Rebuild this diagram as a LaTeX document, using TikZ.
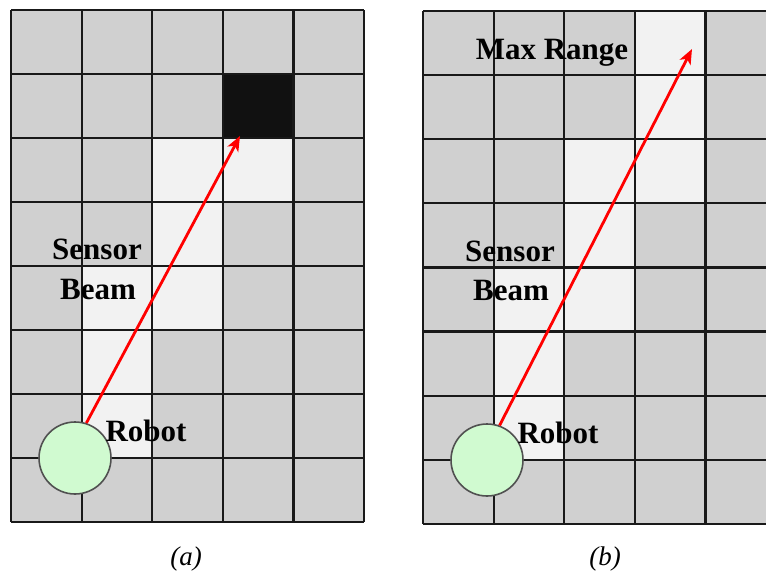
\documentclass[tikz,border=0pt]{standalone}
\usepackage{fontspec}
\setmainfont{Liberation Serif}
\usetikzlibrary{arrows.meta}
\definecolor{cellgray}{HTML}{D0D0D0}
\definecolor{celllight}{HTML}{F2F2F2}
\definecolor{cellblack}{HTML}{111111}
\definecolor{robotgreen}{HTML}{D0FAD0}
\definecolor{robotedge}{HTML}{505050}
\begin{document}
\begin{tikzpicture}[x=1pt,y=-1pt,
  gridline/.style={draw=black!90, line width=2.2pt},
  robot/.style={circle, draw=robotedge, fill=robotgreen, line width=1.6pt, minimum size=72pt, inner sep=0pt},
  beam/.style={red, line width=2.8pt, -{Stealth[length=15pt,width=12pt,inset=4pt]}},
  lbl/.style={font=\bfseries\fontsize{31}{33}\selectfont, inner sep=0pt},
  capt/.style={font=\itshape\fontsize{27}{29}\selectfont, inner sep=0pt}]
\useasboundingbox (0,0) rectangle (766,573);
\fill[white] (0,0) rectangle (766,573);
% ---------- panel (a)
\begin{scope}
  \def\xo{11}\def\yo{10}\def\cw{70.6}\def\ch{64}
  \fill[cellgray] (\xo,\yo) rectangle ({\xo+5*\cw},{\yo+8*\ch});
  \foreach \i/\j in {2/2,3/2,2/3,1/4,2/4,1/5,1/6}
    \fill[celllight] ({\xo+\cw*\i},{\yo+\ch*\j}) rectangle ({\xo+\cw*(\i+1)},{\yo+\ch*(\j+1)});
  \fill[cellblack] ({\xo+\cw*3},{\yo+\ch*1}) rectangle ({\xo+\cw*4},{\yo+\ch*2});
  \foreach \j in {0,...,8}
    \draw[gridline] (\xo,{\yo+\ch*\j}) -- ({\xo+5*\cw},{\yo+\ch*\j});
  \foreach \i in {0,...,5}
    \draw[gridline] ({\xo+\cw*\i},\yo) -- ({\xo+\cw*\i},{\yo+8*\ch});
\end{scope}
\node[robot] (robotA) at (75,458) {};
\coordinate (tipA) at (240,136);
\draw[beam] (robotA.72) -- (tipA);
\node[lbl] (sensorA) at (97,249) {Sensor};
\node[lbl] (beamA) at (98,289) {Beam};
\node[lbl] (robotlblA) at (146,431) {Robot};
\node[capt] (capA) at (186,559) {(a)};
% ---------- panel (b)
\begin{scope}
  \clip (0,0) rectangle (766,573);
  \def\xo{423}\def\yo{11}\def\cw{70.6}\def\ch{64.1}
  \fill[cellgray] (\xo,\yo) rectangle ({\xo+5*\cw},{\yo+8*\ch});
  \foreach \i/\j in {3/0,3/1,2/2,3/2,2/3,1/4,2/4,1/5,1/6}
    \fill[celllight] ({\xo+\cw*\i},{\yo+\ch*\j}) rectangle ({\xo+\cw*(\i+1)},{\yo+\ch*(\j+1)});
  \foreach \j in {0,...,8}
    \draw[gridline] (\xo,{\yo+\ch*\j}) -- ({\xo+5*\cw},{\yo+\ch*\j});
  \foreach \i in {0,...,5}
    \draw[gridline] ({\xo+\cw*\i},\yo) -- ({\xo+\cw*\i},{\yo+8*\ch});
\end{scope}
\node[robot] (robotB) at (487,460) {};
\coordinate (tipB) at (692,49);
\draw[beam] (robotB.70) -- (tipB);
\node[lbl] (maxB) at (552,53) {Max Range};
\node[lbl] (sensorB) at (510,251) {Sensor};
\node[lbl] (beamB) at (511,290) {Beam};
\node[lbl] (robotlblB) at (558,433) {Robot};
\node[capt] (capB) at (605,559) {(b)};
\end{tikzpicture}
\end{document}
